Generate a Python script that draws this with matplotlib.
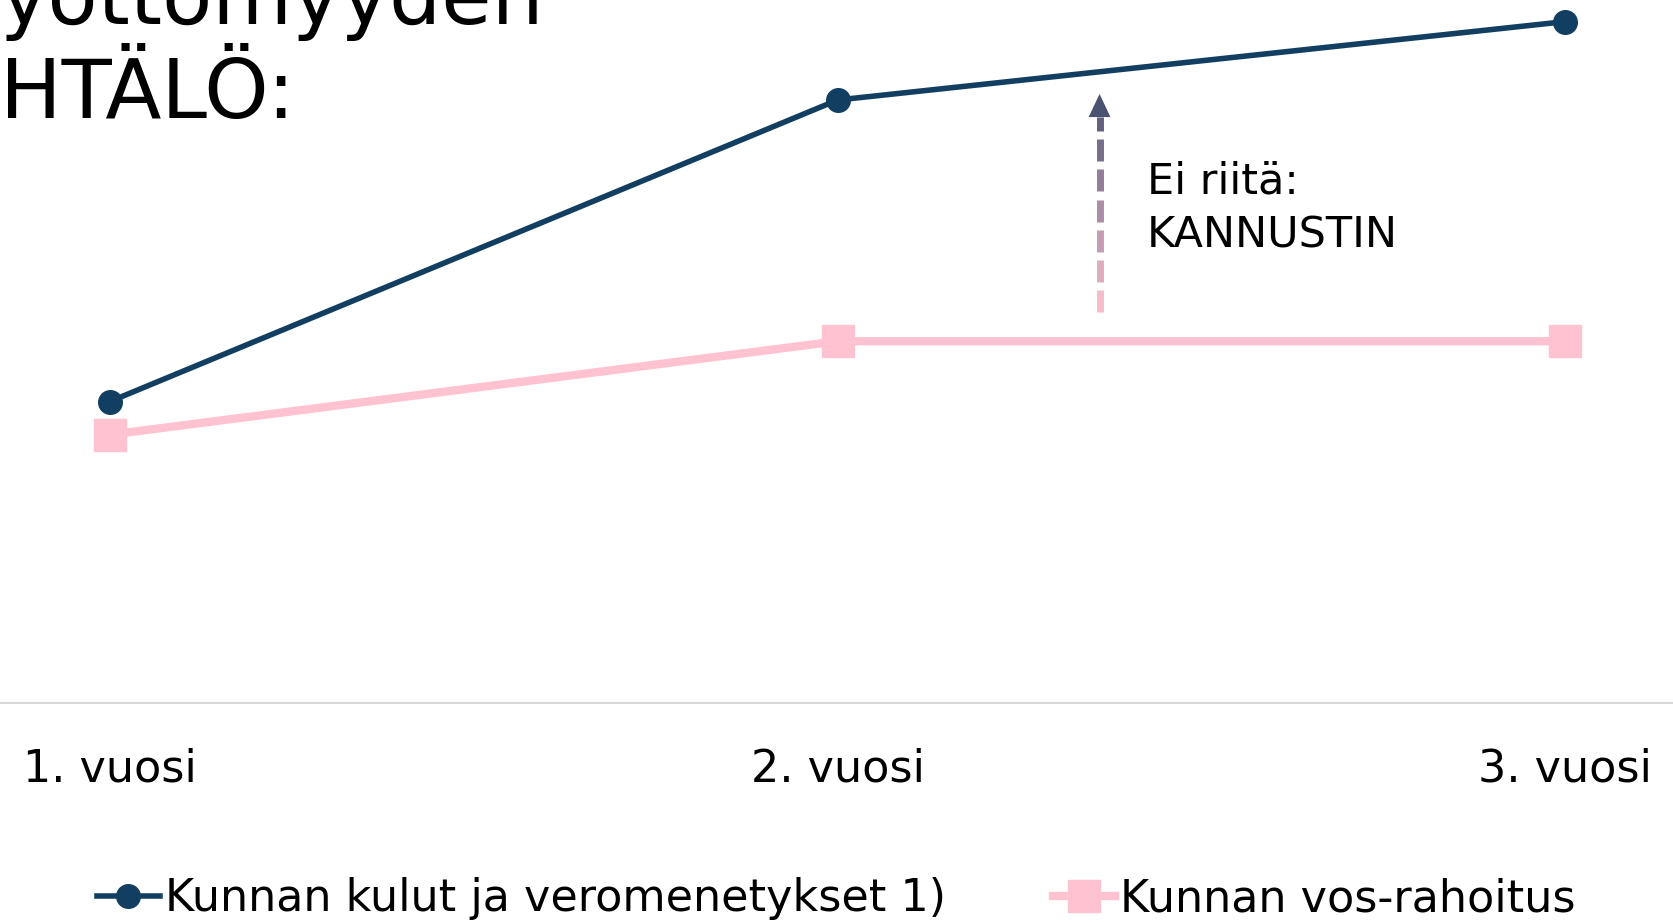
import matplotlib
matplotlib.use("Agg")
import matplotlib.pyplot as plt
import numpy as np

# data
vuodet = ["1. vuosi", "2. vuosi", "3. vuosi"]
kulut = [30.0, 60.0, 67.8]
vos = [26.7, 36.0, 36.0]
sarja1 = "Kunnan kulut ja veromenetykset 1)"
sarja2 = "Kunnan vos-rahoitus"
nuoli_x = 1.36
nuoli_ala = 38.9
nuoli_yla = 60.6

tumma = "#123F61"
pinkki = "#FFC2D1"

plt.rcParams['font.family'] = ['DejaVu Sans']

fig = plt.figure(figsize=(16.73, 9.22), dpi=100)
ax = fig.add_axes([0, 0.2375, 1, 0.7625])

x = np.arange(len(vuodet))
ax.plot(x, kulut, color=tumma, lw=4, marker="o", ms=17, label=sarja1, clip_on=False, zorder=3)
ax.plot(x, vos, color=pinkki, lw=6, marker="s", ms=23, label=sarja2, clip_on=False, zorder=2)

ax.set_xlim(-0.151, 2.148)
ax.set_ylim(0, 69.95)

# dashed gradient arrow
c_ala = np.array(matplotlib.colors.to_rgb(pinkki))
c_yla = np.array(matplotlib.colors.to_rgb("#4B5272"))
pit = nuoli_yla - nuoli_ala
kaari = nuoli_yla - 2.3
y0 = nuoli_ala
while y0 < kaari:
    y1 = min(y0 + 2.2, kaari)
    t = (y0 + y1) / 2
    f = (t - nuoli_ala) / pit
    ax.plot([nuoli_x, nuoli_x], [y0, y1], color=c_ala * (1 - f) + c_yla * f,
            lw=5, solid_capstyle="butt")
    y0 = y1 + 0.8
ax.fill([nuoli_x - 0.015, nuoli_x + 0.015, nuoli_x],
        [kaari, kaari, nuoli_yla], color="#4B5272", lw=0)

ax.text(nuoli_x + 0.065, 49.2, "Ei riitä:\nKANNUSTIN", fontsize=31,
        va="center", ha="left", linespacing=1.38)

# axis styling
for s in ["top", "right", "left"]:
    ax.spines[s].set_visible(False)
ax.spines["bottom"].set_color("#D9D9D9")
ax.spines["bottom"].set_linewidth(1.5)
ax.set_yticks([])
ax.set_xticks(x)
ax.set_xticklabels(vuodet, fontsize=32)
ax.tick_params(axis="x", length=0, pad=32)

fig.text(0.0, 0.872, "yöttömyyden\nHTÄLÖ:", fontsize=59, va="baseline",
         ha="left", linespacing=1.25)

fig.legend(loc="center", bbox_to_anchor=(0.5, 0.025), ncol=2, frameon=False,
           fontsize=32, handlelength=1.4, handletextpad=0.12, columnspacing=2.4,
           borderaxespad=0)

fig.savefig("out.png", dpi=100)
